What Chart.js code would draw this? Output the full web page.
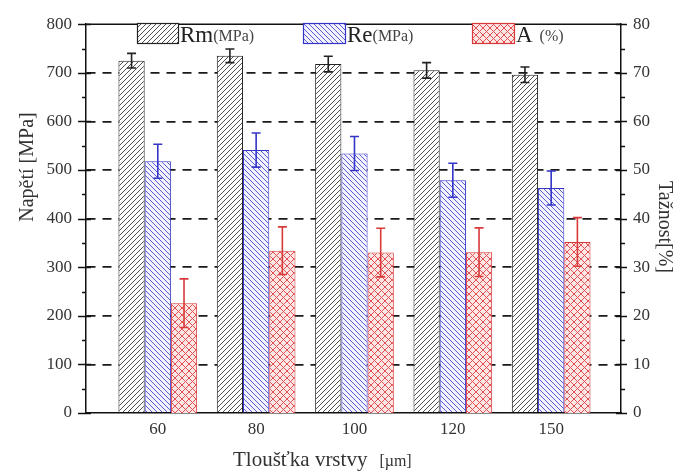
<!DOCTYPE html>
<html>
<head>
<meta charset="utf-8">
<script src="https://cdn.jsdelivr.net/npm/chart.js@4.4.1/dist/chart.umd.min.js"></script>
<style>
html,body{margin:0;padding:0;background:#fff;}
#wrap{width:683px;height:473px;}
</style>
</head>
<body>
<div id="wrap"><canvas id="c" width="683" height="473"></canvas></div>
<script>
// ---- data ----
const categories = ['60', '80', '100', '120', '150'];
const rmValues = [725, 735, 718, 705, 696];
const rmErrors = [15, 14, 16, 16, 16];
const reValues = [518, 541, 534, 479, 463];
const reErrors = [35, 35, 35, 35, 35];
const aValues = [22.6, 33.4, 33.0, 33.1, 35.2];
const aErrors = [5.0, 4.9, 5.0, 5.0, 5.0];
const leftTickStep = 100;   // 0 .. 800
const rightTickStep = 10;   // 0 .. 80
const leftTitle = 'Napětí [MPa]';
const rightTitle = 'Tažnost[%]';
const xTitleMain = 'Tloušťka vrstvy';
const xTitleUnit = '[µm]';
const legendNames = [['Rm', '(MPa)'], ['Re', '(MPa)'], ['A', ' (%)']];

const SERIF = "'Liberation Serif', 'DejaVu Serif', serif";

function makePattern(size, bg, fg, dirs, lw) {
  const c = document.createElement('canvas');
  c.width = c.height = size;
  const g = c.getContext('2d');
  g.fillStyle = bg; g.fillRect(0, 0, size, size);
  g.strokeStyle = fg; g.lineWidth = lw;
  for (const d of dirs) {
    for (let k = -1; k <= 1; k++) {
      g.beginPath();
      if (d === '/') { g.moveTo(k * size, size); g.lineTo(k * size + size, 0); }
      else { g.moveTo(k * size, 0); g.lineTo(k * size + size, size); }
      g.stroke();
    }
  }
  return g.createPattern(c, 'repeat');
}
const rmPattern = makePattern(5, '#ffffff', '#505050', ['/'], 1);
const rePattern = makePattern(5, '#f3f3ff', '#5a5ad4', ['\\'], 1);
const aPattern = makePattern(7, '#fde6e6', '#e05050', ['/', '\\'], 1);

const rmColor = '#222222', reColor = '#3434c8', aColor = '#d83a3a';

const toPts = arr => arr.map((v, i) => ({ x: i, y: v }));

const errorBars = {
  id: 'errorBars',
  afterDatasetsDraw(chart) {
    const ctx = chart.ctx;
    chart.data.datasets.forEach((ds, di) => {
      const meta = chart.getDatasetMeta(di);
      const ys = chart.scales[meta.yAxisID];
      ctx.save();
      ctx.strokeStyle = ds.errColor;
      ctx.lineWidth = 1.6;
      meta.data.forEach((bar, j) => {
        const v = ds.data[j].y, e = ds.errors[j];
        const top = ys.getPixelForValue(v + e), bot = ys.getPixelForValue(v - e);
        const x = bar.x, w = 4.5;
        ctx.beginPath();
        ctx.moveTo(x, top); ctx.lineTo(x, bot);
        ctx.moveTo(x - w, top); ctx.lineTo(x + w, top);
        ctx.moveTo(x - w, bot); ctx.lineTo(x + w, bot);
        ctx.stroke();
      });
      ctx.restore();
    });
  }
};

const decorations = {
  id: 'decorations',
  afterDraw(chart) {
    const ctx = chart.ctx;
    const a = chart.chartArea;
    const y = chart.scales.y, y2 = chart.scales.y2;
    ctx.save();
    ctx.strokeStyle = '#111';
    ctx.lineWidth = 1.5;
    // top frame
    ctx.beginPath(); ctx.moveTo(a.left, a.top); ctx.lineTo(a.right, a.top); ctx.stroke();
    // left ticks
    for (let v = 0; v <= 800; v += 50) {
      const p = Math.round(y.getPixelForValue(v)) + 0.5;
      ctx.beginPath();
      if (v % 100 === 0) { ctx.moveTo(a.left - 8, p); ctx.lineTo(a.left + 5, p); }
      else { ctx.moveTo(a.left - 4, p); ctx.lineTo(a.left, p); }
      ctx.stroke();
    }
    for (let v = 0; v <= 80; v += 5) {
      const p = Math.round(y2.getPixelForValue(v)) + 0.5;
      ctx.beginPath();
      if (v % 10 === 0) { ctx.moveTo(a.right - 5, p); ctx.lineTo(a.right + 6, p); }
      else { ctx.moveTo(a.right, p); ctx.lineTo(a.right + 4, p); }
      ctx.stroke();
    }
    // axis titles
    ctx.fillStyle = '#333';
    ctx.textAlign = 'center'; ctx.textBaseline = 'middle';
    ctx.font = '20px ' + SERIF;
    ctx.save(); ctx.translate(28, 167); ctx.rotate(-Math.PI / 2); ctx.fillText(leftTitle, 0, 0); ctx.restore();
    ctx.save(); ctx.translate(664, 227); ctx.rotate(Math.PI / 2); ctx.fillText(rightTitle, 0, 0); ctx.restore();
    ctx.textAlign = 'left'; ctx.textBaseline = 'alphabetic';
    ctx.font = '21px ' + SERIF;
    ctx.fillText(xTitleMain, 233, 466);
    const w1 = ctx.measureText(xTitleMain).width;
    ctx.font = '16px ' + SERIF;
    ctx.fillText(xTitleUnit, 233 + w1 + 12, 466);
    // legend
    const boxes = [[137, 23, 41, 20, rmPattern, rmColor], [303, 23, 42, 20, rePattern, reColor], [472, 23, 42, 20, aPattern, aColor]];
    boxes.forEach((b, i) => {
      ctx.fillStyle = b[4]; ctx.fillRect(b[0], b[1], b[2], b[3]);
      ctx.strokeStyle = b[5]; ctx.lineWidth = 1.2; ctx.strokeRect(b[0] + 0.5, b[1] + 0.5, b[2], b[3]);
      ctx.fillStyle = '#222';
      ctx.font = '23px ' + SERIF;
      const tx = b[0] + b[2] + 2;
      ctx.fillText(legendNames[i][0], tx, 42);
      const tw = ctx.measureText(legendNames[i][0]).width;
      ctx.fillStyle = '#444';
      ctx.font = '16px ' + SERIF;
      ctx.fillText(legendNames[i][1], tx + tw + (i === 2 ? 3 : 0), 41);
    });
    ctx.restore();
  }
};

const tickFont = { family: SERIF, size: 17 };

new Chart(document.getElementById('c'), {
  type: 'bar',
  data: {
    datasets: [
      { label: 'Rm(MPa)', data: toPts(rmValues), errors: rmErrors, errColor: rmColor, yAxisID: 'y',
        backgroundColor: rmPattern, borderColor: rmColor, borderWidth: 1 },
      { label: 'Re(MPa)', data: toPts(reValues), errors: reErrors, errColor: reColor, yAxisID: 'y',
        backgroundColor: rePattern, borderColor: reColor, borderWidth: 1 },
      { label: 'A (%)', data: toPts(aValues), errors: aErrors, errColor: aColor, yAxisID: 'y2',
        backgroundColor: aPattern, borderColor: aColor, borderWidth: 1 }
    ]
  },
  options: {
    responsive: false,
    animation: false,
    devicePixelRatio: 1,
    layout: { padding: { top: 16, left: 0, right: 0, bottom: 0 } },
    datasets: { bar: { categoryPercentage: 0.80, barPercentage: 1.0 } },
    plugins: { legend: { display: false }, tooltip: { enabled: false } },
    scales: {
      x: {
        type: 'linear', min: -0.73, max: 4.71, offset: false,
        afterBuildTicks: s => { s.ticks = categories.map((_, i) => ({ value: i })); },
        ticks: { callback: v => categories[v], font: tickFont, color: '#333', padding: 6, autoSkip: false, maxRotation: 0 },
        grid: { display: false, drawTicks: false, offset: false },
        border: { display: true, color: '#111', width: 1.5 },
        afterFit: s => { s.height = 60; }
      },
      y: {
        position: 'left', min: 0, max: 800, z: 1,
        ticks: { stepSize: leftTickStep, font: tickFont, color: '#333', padding: 14 },
        grid: {
          drawTicks: false,
          color: c => (c.tick && (c.tick.value === 0 || c.tick.value === 800)) ? 'rgba(0,0,0,0)' : '#1a1a1a',
          lineWidth: 1.8
        },
        border: { display: true, color: '#111', width: 1.5, dash: [9, 7] },
        afterFit: s => { s.width = 86; }
      },
      y2: {
        position: 'right', min: 0, max: 80,
        ticks: { stepSize: rightTickStep, font: tickFont, color: '#333', padding: 12 },
        grid: { display: false, drawTicks: false },
        border: { display: true, color: '#111', width: 1.5 },
        afterFit: s => { s.width = 62; }
      }
    }
  },
  plugins: [errorBars, decorations]
});
</script>
</body>
</html>
